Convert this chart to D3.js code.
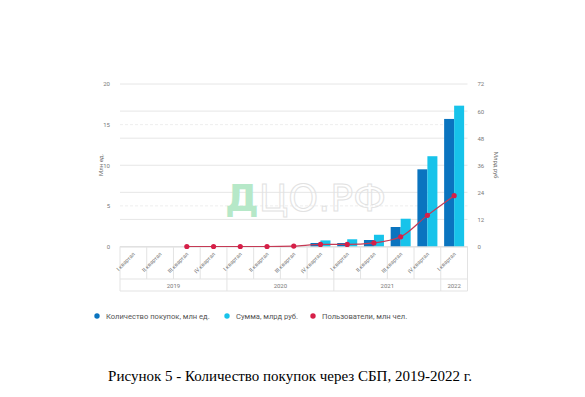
<!DOCTYPE html>
<html><head><meta charset="utf-8">
<script src="https://cdn.jsdelivr.net/npm/d3@7"></script>
<style>body{margin:0;background:#fff}svg{display:block}</style>
</head><body>
<svg id="c" width="585" height="397"></svg>
<script>
const quarters = ["I квартал","II квартал","III квартал","IV квартал","I квартал","II квартал","III квартал","IV квартал","I квартал","II квартал","III квартал","IV квартал","I квартал"];
const years = [{year:"2019",n:4},{year:"2020",n:4},{year:"2021",n:4},{year:"2022",n:1}];
const purchases = [0,0,0,0,0,0,0,0.43,0.43,0.8,2.4,9.5,15.7];        // млн ед., left axis
const sums = [0,0,0,0,0,0,0,2.7,3.2,5.2,12.3,40,62.4];             // млрд руб., right axis
const users = [null,null,0,0,0,0,0.2,0.9,0.9,1.6,4.3,13.8,22.5];    // млн чел., right axis
const leftTicks = [0,5,10,15,20];
const rightTicks = [0,12,24,36,48,60,72];

const svg = d3.select("#c");
const L = 120, R = 467.5, T = 84, B = 246.5;
const idx = d3.range(quarters.length);
const x = d3.scaleBand().domain(idx).range([L,R]).paddingInner(0).paddingOuter(0);
const yL = d3.scaleLinear().domain([0,20]).range([B,T]);
const yR = d3.scaleLinear().domain([0,72]).range([B,T]);

// gridlines
svg.append("g").selectAll("line").data(rightTicks).join("line")
  .attr("x1",L).attr("x2",R).attr("y1",d=>yR(d)).attr("y2",d=>yR(d))
  .attr("stroke","#e6e6e6").attr("stroke-width",1);
svg.append("g").selectAll("line").data(leftTicks.filter(d=>d%10!==0)).join("line")
  .attr("x1",L).attr("x2",R).attr("y1",d=>yL(d)).attr("y2",d=>yL(d))
  .attr("stroke","#eeeeee").attr("stroke-dasharray","3,2").attr("stroke-width",1);

// watermark
const wm = svg.append("text").attr("x",225).attr("y",211).attr("font-family","DejaVu Sans")
  .attr("font-size",38).attr("font-weight","bold");
wm.append("tspan").text("Д").attr("fill","#b6e8c8");
wm.append("tspan").text("ЦО.РФ").attr("fill","none").attr("stroke","#e2e2e2").attr("stroke-width",1).attr("font-weight","normal");

// axes labels
const yLa = svg.append("g").attr("transform",`translate(${L-10},0)`)
  .call(d3.axisLeft(yL).tickValues(leftTicks).tickSize(0).tickPadding(0));
const yRa = svg.append("g").attr("transform",`translate(${R+10},0)`)
  .call(d3.axisRight(yR).tickValues(rightTicks).tickSize(0).tickPadding(0));
[yLa,yRa].forEach(g=>{g.select(".domain").remove();
  g.selectAll("text").attr("font-family","Roboto").attr("font-size",6).attr("fill","#7a7a7a");});

svg.append("text").attr("transform","translate(103,165) rotate(-90)").attr("text-anchor","middle")
  .attr("font-family","Roboto").attr("font-size",6).attr("fill","#666").text("Млн ед.");
svg.append("text").attr("transform","translate(494,165) rotate(90)").attr("text-anchor","middle")
  .attr("font-family","Roboto").attr("font-size",6).attr("fill","#666").text("Млрд руб");

// bars
const bw = 10;
svg.append("g").selectAll("rect").data(idx.filter(i=>purchases[i]>0)).join("rect")
  .attr("x",i=>x(i)+x.bandwidth()/2-bw).attr("width",bw)
  .attr("y",i=>yL(purchases[i])).attr("height",i=>B-yL(purchases[i])).attr("fill","#0a74bf");
svg.append("g").selectAll("rect").data(idx.filter(i=>sums[i]>0)).join("rect")
  .attr("x",i=>x(i)+x.bandwidth()/2).attr("width",bw)
  .attr("y",i=>yR(sums[i])).attr("height",i=>B-yR(sums[i])).attr("fill","#17c3ea");

// x-axis table
const gx = svg.append("g");
const cellB = 279, yearB = 291;
gx.append("line").attr("x1",L).attr("x2",R).attr("y1",B+0.5).attr("y2",B+0.5).attr("stroke","#dcdcdc");
gx.append("line").attr("x1",L).attr("x2",R).attr("y1",cellB).attr("y2",cellB).attr("stroke","#e3e3e3");
gx.append("line").attr("x1",L).attr("x2",R).attr("y1",yearB).attr("y2",yearB).attr("stroke","#e3e3e3");
gx.selectAll(".qd").data(idx.concat([quarters.length])).join("line")
  .attr("x1",i=>i<quarters.length?x(i):R).attr("x2",i=>i<quarters.length?x(i):R)
  .attr("y1",B).attr("y2",cellB).attr("stroke","#e3e3e3");
let acc=0; const yearPos = years.map(y=>{const s=acc; acc+=y.n; return {year:y.year,s,e:acc};});
gx.selectAll(".yd").data(yearPos.map(d=>d.s).concat([quarters.length])).join("line")
  .attr("x1",i=>i<quarters.length?x(i):R).attr("x2",i=>i<quarters.length?x(i):R)
  .attr("y1",cellB).attr("y2",yearB).attr("stroke","#e3e3e3");
gx.selectAll(".ql").data(idx).join("text")
  .attr("transform",i=>`translate(${x(i)+x.bandwidth()/2+2},${B+8}) rotate(-45)`)
  .attr("text-anchor","end").attr("font-family","Roboto").attr("font-size",5.5).attr("fill","#7a7a7a")
  .text(i=>quarters[i]);
gx.selectAll(".yl").data(yearPos).join("text")
  .attr("x",d=>(x(d.s)+(d.e<quarters.length?x(d.e):R))/2).attr("y",cellB+8.5)
  .attr("text-anchor","middle").attr("font-family","Roboto").attr("font-size",6).attr("fill","#7a7a7a")
  .text(d=>d.year);

// users line
const pts = idx.filter(i=>users[i]!==null);
const line = d3.line().x(i=>x(i)+x.bandwidth()/2).y(i=>yR(users[i])).curve(d3.curveMonotoneX);
svg.append("path").datum(pts).attr("d",line).attr("fill","none").attr("stroke","#c53a55").attr("stroke-width",1.2);
svg.append("g").selectAll("circle").data(pts).join("circle")
  .attr("cx",i=>x(i)+x.bandwidth()/2).attr("cy",i=>yR(users[i])).attr("r",2.6).attr("fill","#d61f48");

// legend
const legend = [{c:"#0a74bf",t:"Количество покупок, млн ед.",x:97},{c:"#17c3ea",t:"Сумма, млрд руб.",x:227},{c:"#d61f48",t:"Пользователи, млн чел.",x:313}];
const lg = svg.append("g").selectAll("g").data(legend).join("g").attr("transform",d=>`translate(${d.x},316)`);
lg.append("circle").attr("r",2.7).attr("fill",d=>d.c);
lg.append("text").attr("x",9).attr("y",2.5).attr("font-family","Roboto").attr("font-size",7.6).attr("fill","#555").text(d=>d.t);

// caption
svg.append("text").attr("x",290).attr("y",381).attr("text-anchor","middle")
  .attr("font-family","Liberation Serif").attr("font-size",15).attr("fill","#000")
  .text("Рисунок 5 - Количество покупок через СБП, 2019-2022 г.");
</script>
</body></html>
